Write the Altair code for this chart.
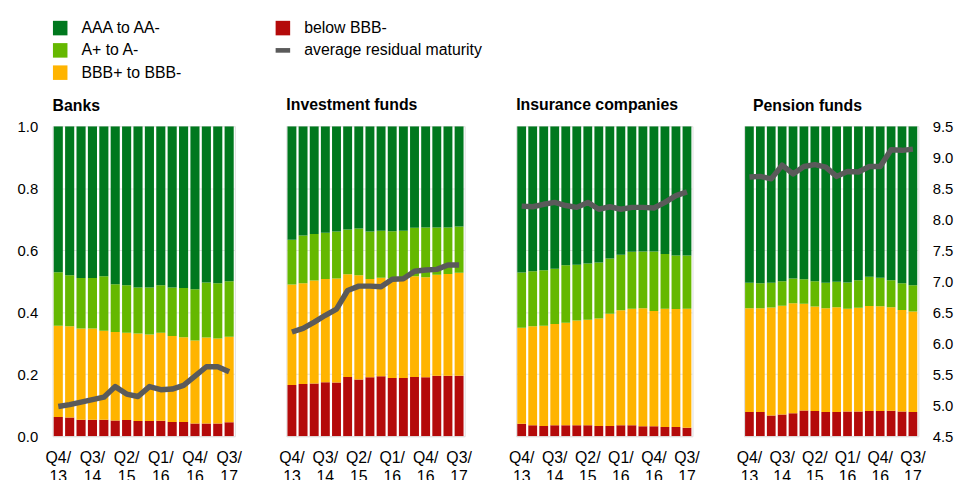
import altair as alt
import pandas as pd

quarters = ["Q4/13", "Q1/14", "Q2/14", "Q3/14", "Q4/14", "Q1/15", "Q2/15", "Q3/15",
            "Q4/15", "Q1/16", "Q2/16", "Q3/16", "Q4/16", "Q1/17", "Q2/17", "Q3/17"]
label_quarters = ["Q4/13", "Q3/14", "Q2/15", "Q1/16", "Q4/16", "Q3/17"]

sectors = ["Banks", "Investment funds", "Insurance companies", "Pension funds"]
ratings = ["below BBB-", "BBB+ to BBB-", "A+ to A-", "AAA to AA-"]
rating_colors = ["#B40A0A", "#FFB400", "#65B800", "#00781E"]
line_label = "average residual maturity"
line_color = "#5A5A5A"

# shares of holdings by rating bucket (fractions of total)
banks_below = [0.062, 0.060, 0.053, 0.053, 0.053, 0.051, 0.052, 0.049, 0.049, 0.050, 0.046, 0.046, 0.041, 0.041, 0.041, 0.045]
banks_bbb = [0.294, 0.295, 0.294, 0.294, 0.287, 0.285, 0.282, 0.282, 0.279, 0.284, 0.277, 0.273, 0.268, 0.277, 0.274, 0.276]
banks_a = [0.173, 0.164, 0.163, 0.163, 0.176, 0.154, 0.153, 0.149, 0.152, 0.153, 0.157, 0.159, 0.165, 0.178, 0.178, 0.179]
banks_aaa = [0.471, 0.481, 0.490, 0.490, 0.484, 0.510, 0.513, 0.520, 0.520, 0.513, 0.520, 0.522, 0.526, 0.504, 0.507, 0.500]
banks_maturity = [4.98, 5.01, 5.05, 5.09, 5.13, 5.30, 5.18, 5.14, 5.30, 5.25, 5.26, 5.32, 5.47, 5.62, 5.62, 5.54]

funds_below = [0.165, 0.168, 0.170, 0.174, 0.173, 0.191, 0.183, 0.190, 0.193, 0.188, 0.188, 0.191, 0.190, 0.195, 0.195, 0.195]
funds_bbb = [0.324, 0.325, 0.332, 0.333, 0.336, 0.331, 0.336, 0.317, 0.318, 0.321, 0.321, 0.325, 0.323, 0.326, 0.328, 0.332]
funds_a = [0.145, 0.154, 0.150, 0.149, 0.151, 0.145, 0.151, 0.153, 0.152, 0.152, 0.154, 0.156, 0.160, 0.152, 0.150, 0.149]
funds_aaa = [0.366, 0.353, 0.348, 0.344, 0.340, 0.333, 0.330, 0.340, 0.337, 0.339, 0.337, 0.328, 0.327, 0.327, 0.327, 0.324]
funds_maturity = [6.18, 6.24, 6.34, 6.45, 6.55, 6.85, 6.92, 6.92, 6.91, 7.03, 7.04, 7.16, 7.18, 7.19, 7.26, 7.26]

insur_below = [0.040, 0.035, 0.033, 0.035, 0.035, 0.035, 0.035, 0.033, 0.033, 0.035, 0.035, 0.032, 0.032, 0.030, 0.030, 0.027]
insur_bbb = [0.310, 0.320, 0.323, 0.327, 0.331, 0.338, 0.341, 0.347, 0.362, 0.371, 0.376, 0.381, 0.372, 0.381, 0.380, 0.384]
insur_a = [0.178, 0.177, 0.179, 0.178, 0.185, 0.180, 0.181, 0.180, 0.178, 0.179, 0.184, 0.183, 0.192, 0.177, 0.173, 0.172]
insur_aaa = [0.472, 0.468, 0.465, 0.460, 0.449, 0.447, 0.443, 0.440, 0.427, 0.415, 0.405, 0.404, 0.404, 0.412, 0.417, 0.417]
insur_maturity = [8.21, 8.20, 8.24, 8.27, 8.22, 8.19, 8.27, 8.16, 8.20, 8.16, 8.19, 8.19, 8.18, 8.27, 8.38, 8.44]

pens_below = [0.078, 0.078, 0.067, 0.070, 0.074, 0.083, 0.081, 0.078, 0.078, 0.080, 0.080, 0.081, 0.081, 0.082, 0.080, 0.078]
pens_bbb = [0.335, 0.335, 0.348, 0.351, 0.355, 0.344, 0.337, 0.335, 0.338, 0.331, 0.334, 0.339, 0.338, 0.334, 0.327, 0.324]
pens_a = [0.082, 0.080, 0.080, 0.079, 0.080, 0.079, 0.082, 0.082, 0.082, 0.085, 0.089, 0.094, 0.092, 0.087, 0.086, 0.085]
pens_aaa = [0.505, 0.507, 0.505, 0.500, 0.491, 0.494, 0.500, 0.505, 0.502, 0.504, 0.497, 0.486, 0.489, 0.497, 0.507, 0.513]
pens_maturity = [8.68, 8.69, 8.65, 8.87, 8.73, 8.85, 8.88, 8.84, 8.69, 8.77, 8.76, 8.85, 8.85, 9.12, 9.11, 9.13]

share_series = {
    "Banks": [banks_below, banks_bbb, banks_a, banks_aaa],
    "Investment funds": [funds_below, funds_bbb, funds_a, funds_aaa],
    "Insurance companies": [insur_below, insur_bbb, insur_a, insur_aaa],
    "Pension funds": [pens_below, pens_bbb, pens_a, pens_aaa],
}
maturity_series = {
    "Banks": banks_maturity,
    "Investment funds": funds_maturity,
    "Insurance companies": insur_maturity,
    "Pension funds": pens_maturity,
}

FONT = "Liberation Sans"

def panel(idx, name, width, title_dx=0, title_dy=0):
    rows = []
    for k, (rating, vals) in enumerate(zip(ratings, share_series[name])):
        for q, v in zip(quarters, vals):
            rows.append({"quarter": q, "rating": rating, "k": k, "share": v})
    shares = pd.DataFrame(rows)
    mat = pd.DataFrame({"quarter": quarters, "maturity": maturity_series[name]})

    x = alt.X(
        "quarter:N", sort=quarters, title=None,
        scale=alt.Scale(paddingInner=0.2, paddingOuter=0.1),
        axis=alt.Axis(values=label_quarters, labelAngle=0, ticks=False, domain=False,
                      labelExpr="[slice(datum.label, 0, 3), slice(datum.label, 3)]",
                      labelFontSize=16, labelPadding=14, labelLineHeight=18.5,
                      labelBaseline="top", labelColor="#000000", labelFont=FONT,
                      labelOverlap=False),
    )
    left_axis = alt.Axis(values=[0, 0.2, 0.4, 0.6, 0.8, 1.0], format=".1f",
                         labels=(idx == 0), ticks=False, domain=False, grid=True,
                         gridColor="#e4e4e4", gridWidth=1, labelFontSize=15,
                         labelPadding=15, labelColor="#000000", labelFont=FONT,
                         title=None)
    bars = alt.Chart(shares).mark_bar(strokeWidth=0, clip=True).encode(
        x=x,
        y=alt.Y("share:Q", stack="zero", title=None,
                scale=alt.Scale(domain=[0, 1], nice=False), axis=left_axis),
        color=alt.Color("rating:N", scale=alt.Scale(domain=ratings, range=rating_colors),
                        legend=None),
        order=alt.Order("k:Q", sort="ascending"),
    )
    if idx == 3:
        yline = alt.Y("maturity:Q", title=None, scale=alt.Scale(domain=[4.5, 9.5], nice=False),
                      axis=alt.Axis(orient="right",
                                    values=[4.5, 5.0, 5.5, 6.0, 6.5, 7.0, 7.5, 8.0, 8.5, 9.0, 9.5],
                                    format=".1f", ticks=False, domain=False, grid=False,
                                    labelFontSize=15, labelPadding=14, labelColor="#000000",
                                    labelFont=FONT, title=None))
    else:
        yline = alt.Y("maturity:Q", title=None, scale=alt.Scale(domain=[4.5, 9.5], nice=False),
                      axis=None)
    line = alt.Chart(mat).mark_line(color=line_color, strokeWidth=5.5, strokeJoin="round").encode(
        x=alt.X("quarter:N", sort=quarters),
        y=yline,
    )
    return alt.layer(bars, line).resolve_scale(y="independent").properties(
        width=width, height=313,
        title=alt.TitleParams(text=name, anchor="start", frame="group", fontSize=16,
                              fontWeight="bold", font=FONT, offset=0, baseline="alphabetic",
                              dx=title_dx, dy=title_dy, color="#000000"),
    )

# legend built from the series names
legend_items = ["AAA to AA-", "A+ to A-", "BBB+ to BBB-", "below BBB-", line_label]
legend_colors = ["#00781E", "#65B800", "#FFB400", "#B40A0A", line_color]
legend_shapes = ["square", "square", "square", "square", "M-1,-0.32H1V0.32H-1Z"]
leg = pd.DataFrame({
    "item": legend_items,
    "col": [i // 3 for i in range(len(legend_items))],
    "row": [i % 3 for i in range(len(legend_items))],
})
lx = alt.X("col:Q", scale=alt.Scale(domain=[0, 1], range=[7.7, 232.5]), axis=None)
ly = alt.Y("row:Q", scale=alt.Scale(domain=[0, 2], range=[0, 45]), axis=None)
leg_sym = alt.Chart(leg).mark_point(filled=True, opacity=1, size=215).encode(
    x=lx, y=ly,
    color=alt.Color("item:N", scale=alt.Scale(domain=legend_items, range=legend_colors), legend=None),
    shape=alt.Shape("item:N", scale=alt.Scale(domain=legend_items, range=legend_shapes), legend=None),
)
leg_txt = alt.Chart(leg).mark_text(align="left", baseline="middle", dx=21.5, fontSize=16,
                                   font=FONT, color="#000000").encode(
    x=lx, y=ly, text="item:N")
legend = alt.layer(leg_sym, leg_txt).properties(
    width=400, height=45, view=alt.ViewBackground(stroke="transparent"))

p1 = panel(0, "Banks", 184, title_dy=7.5)
p2 = panel(1, "Investment funds", 180)
p3 = panel(2, "Insurance companies", 178)
p4 = panel(3, "Pension funds", 176, title_dx=9, title_dy=7.5)

panels = alt.hconcat(p1, p2, p3, p4, spacing=52).properties(bounds="flush")

chart = alt.vconcat(legend, panels, spacing=54).properties(
    bounds="flush",
    padding={"left": 8, "top": 9, "right": 0, "bottom": 0},
).resolve_scale(color="independent", shape="independent").configure_view(
    stroke="#d9d9d9", strokeWidth=1
).configure(background="#ffffff")

chart.save("out.html", embed_options={"renderer": "svg", "actions": False})
